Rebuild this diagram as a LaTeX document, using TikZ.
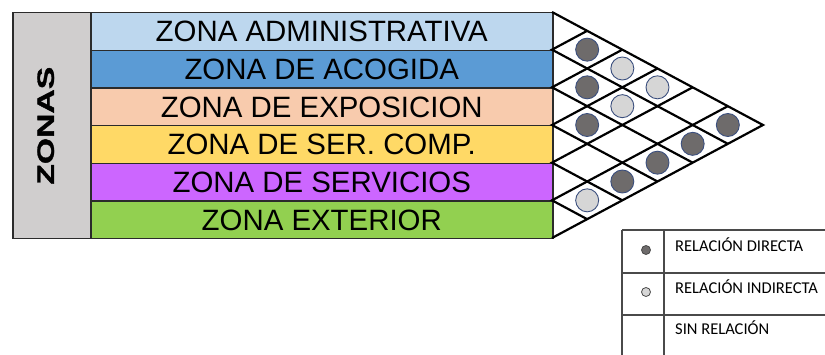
\documentclass[tikz,border=0pt]{standalone}
\usepackage{fontspec}
\setmainfont{Liberation Sans}
\newfontfamily\legendfont{Carlito}
\newfontfamily\zonasfont[FakeBold=1.2]{Liberation Sans Bold}
\definecolor{cAdm}{HTML}{BDD7EE}
\definecolor{cAco}{HTML}{5B9BD5}
\definecolor{cExp}{HTML}{F8CBAD}
\definecolor{cSer}{HTML}{FFD966}
\definecolor{cSrv}{HTML}{CC66FF}
\definecolor{cExt}{HTML}{92D050}
\definecolor{cZon}{HTML}{D0CECE}
\definecolor{cDark}{HTML}{6E6B6B}
\definecolor{cLight}{HTML}{D6D6D6}
\definecolor{cRim}{HTML}{3B4F7E}
\definecolor{cEdge}{HTML}{2B2B2B}
\definecolor{cLeg}{HTML}{4A4A4A}
\begin{document}
\begin{tikzpicture}[x=1pt,y=-1pt,
  rowbox/.style={draw=cEdge,line width=1.5pt,minimum width=462pt,minimum height=37.667pt,
    inner sep=0pt,anchor=north west,font=\fontsize{29.4}{29.4}\selectfont},
  gridline/.style={draw=black,line width=2.2pt,line join=miter},
  dotdark/.style={draw=cRim,line width=0.9pt,fill=cDark},
  dotlight/.style={draw=cRim,line width=0.9pt,fill=cLight},
  legline/.style={draw=cLeg,line width=1.5pt},
  legtext/.style={anchor=base west,inner sep=0pt,font=\legendfont\fontsize{16.5}{16.5}\selectfont}
]
\useasboundingbox (0,0) rectangle (825,355);
\fill[white] (0,0) rectangle (825,355);

% zonas box
\node[draw=cEdge,line width=1.5pt,fill=cZon,minimum width=78pt,minimum height=226pt,inner sep=0pt,anchor=north west] (zonas) at (12,12) {};
\node[rotate=90,inner sep=0pt] (zonaslabel) at ([xshift=-6pt]zonas.center) {\resizebox{118pt}{16.5pt}{\zonasfont ZONAS}};

% rows
\node[rowbox,fill=cAdm] (r1) at (90,12) {ZONA ADMINISTRATIVA};
\node[rowbox,fill=cAco] (r2) at (90,49.667) {ZONA DE ACOGIDA};
\node[rowbox,fill=cExp] (r3) at (90,87.333) {ZONA DE EXPOSICION};
\node[rowbox,fill=cSer] (r4) at (90,125) {ZONA DE SER. COMP.};
\node[rowbox,fill=cSrv] (r5) at (90,162.667) {ZONA DE SERVICIOS};
\node[rowbox,fill=cExt] (r6) at (90,200.333) {ZONA EXTERIOR};

% relationship triangle
\coordinate (tA) at (552,12);
\coordinate (tB) at (552,238);
\coordinate (tip) at (763,125);
\draw[gridline] (tA) -- (tip) -- (tB);
\pgfmathsetmacro{\s}{113/211}
\foreach \k in {1,...,5}{
  \pgfmathsetmacro{\yk}{12+\k*226/6}
  \pgfmathsetmacro{\dd}{(238-\yk)/(2*\s)}
  \pgfmathsetmacro{\yd}{(238+\yk)/2}
  \pgfmathsetmacro{\du}{(\yk-12)/(2*\s)}
  \pgfmathsetmacro{\yu}{(\yk+12)/2}
  \draw[gridline] (552+\dd,\yd) -- (552,\yk) -- (552+\du,\yu);
}

% dots: pair (i,j)
\def\dotat#1#2#3{%
  \pgfmathsetmacro{\cy}{12+((#1+#2)/2-0.5)*226/6}%
  \pgfmathsetmacro{\cx}{552+(#2-#1)*(226/6)/(2*\s)}%
  \filldraw[#3] (\cx,\cy) circle (11.5pt);}
\dotat{1}{2}{dotdark}
\dotat{2}{3}{dotdark}
\dotat{3}{4}{dotdark}
\dotat{1}{6}{dotdark}
\dotat{2}{6}{dotdark}
\dotat{3}{6}{dotdark}
\dotat{4}{6}{dotdark}
\dotat{1}{3}{dotlight}
\dotat{1}{4}{dotlight}
\dotat{2}{4}{dotlight}
\dotat{5}{6}{dotlight}

% legend
\draw[legline] (622,230) -- (826,230);
\draw[legline] (622,273) -- (826,273);
\draw[legline] (622,315) -- (826,315);
\draw[legline] (622,230) -- (622,356);
\draw[legline] (664,230) -- (664,356);
\filldraw[draw=cLeg,line width=0.8pt,fill=cDark] (646,250) circle (4.5pt);
\filldraw[draw=cLeg,line width=0.8pt,fill=cLight] (646,292) circle (4.5pt);
\node[legtext] (l1) at (675,252) {RELACIÓN DIRECTA};
\node[legtext] (l2) at (675,294) {RELACIÓN INDIRECTA};
\node[legtext] (l3) at (675,335) {SIN RELACIÓN};
\end{tikzpicture}
\end{document}
